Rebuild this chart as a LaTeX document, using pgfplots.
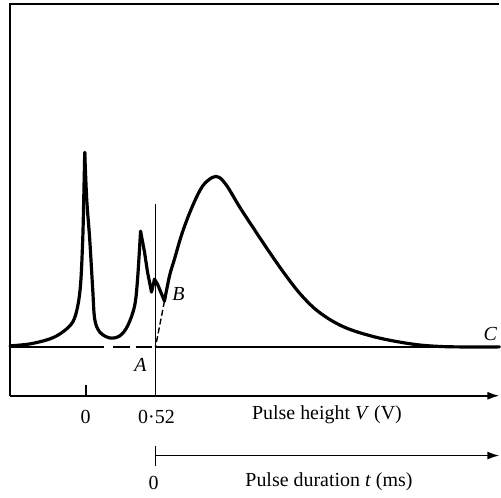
\documentclass[border=0pt]{standalone}
\usepackage{pgfplots}
\pgfplotsset{compat=1.18}
\usetikzlibrary{arrows.meta}
\usepackage{fontspec}
\setmainfont{Liberation Serif}
\begin{document}
\begin{tikzpicture}
\begin{axis}[
  x=0.5pt, y=0.5pt,
  xmin=0, xmax=501, ymin=0, ymax=498,
  hide axis, clip=false,
  every node/.style={font=\fontsize{12.5}{14}\selectfont},
]
\path (axis cs:0,0) rectangle (axis cs:501,498);
% frame
\addplot[black, line width=0.85pt] coordinates {(10,101) (10,494) (501,494)};
% baseline C
\addplot[black, line width=0.85pt] coordinates {(10,150) (104,150)};
\addplot[black, line width=0.85pt] coordinates {(113,150) (130,150)};
\addplot[black, line width=0.85pt] coordinates {(136,150) (152,150)};
\addplot[black, line width=0.85pt] coordinates {(155,150) (501,150)};
% vertical line at 0.52 V
\addplot[black, line width=0.55pt] coordinates {(156,101) (156,293)};
% dashed extrapolation B -> A
\addplot[black, line width=0.7pt, dash pattern=on 3pt off 1.5pt] coordinates {(165,196) (156,150)};
% pulse height axis
\addplot[black, line width=0.85pt, -{Latex[length=6pt,width=4pt]}] coordinates {(10,101) (501,101)};
\addplot[black, line width=0.85pt] coordinates {(86,101) (86,112)};
% pulse duration axis
\addplot[black, line width=0.85pt, -{Latex[length=6pt,width=4pt]}] coordinates {(156,41) (501,41)};
\addplot[black, line width=0.85pt] coordinates {(156,31) (156,51)};
% spectrum curve
\addplot[black, line width=1.6pt, line join=round, line cap=round, smooth, tension=0.55] coordinates {
(10,151) (30,153) (50,158) (63,165) (73,175) (78,191) (81,215) (83,258) (84,298) (85,345)
};
\addplot[black, line width=1.6pt, line join=round, line cap=round, smooth, tension=0.55] coordinates {
(85,345) (87,298) (90,258) (93,208) (95,178) (100,165) (110,159) (120,161)
(128,171) (135,191) (138,218) (141,266)
};
\addplot[black, line width=1.6pt, line join=round, line cap=round] coordinates {
(141,266) (145,245) (148,225) (152,205) (155,218) (158,213) (165,196)
};
\addplot[black, line width=1.6pt, line join=round, line cap=round, smooth, tension=0.55] coordinates {
(165,196) (170,221) (175,238) (183,265) (193,291) (203,311) (213,320) (220,320)
(228,311) (240,291) (255,268) (270,245.5) (285,224) (300,204.5) (315,189)
(330,178) (345,170) (360,164.5) (380,159) (400,155) (420,152) (440,150.5)
(460,150) (501,150)
};
% labels
\node at (axis cs:86,80) {0};
\node at (axis cs:157,80) {0·52};
\node at (axis cs:328,82) {Pulse height \textit{V} (V)};
\node at (axis cs:154,13) {0};
\node at (axis cs:330,15) {Pulse duration \textit{t} (ms)};
\node at (axis cs:141,132) {\textit{A}};
\node at (axis cs:179,203) {\textit{B}};
\node[anchor=east, inner sep=1pt] at (axis cs:501,163) {\textit{C}};
\end{axis}
\end{tikzpicture}
\end{document}
